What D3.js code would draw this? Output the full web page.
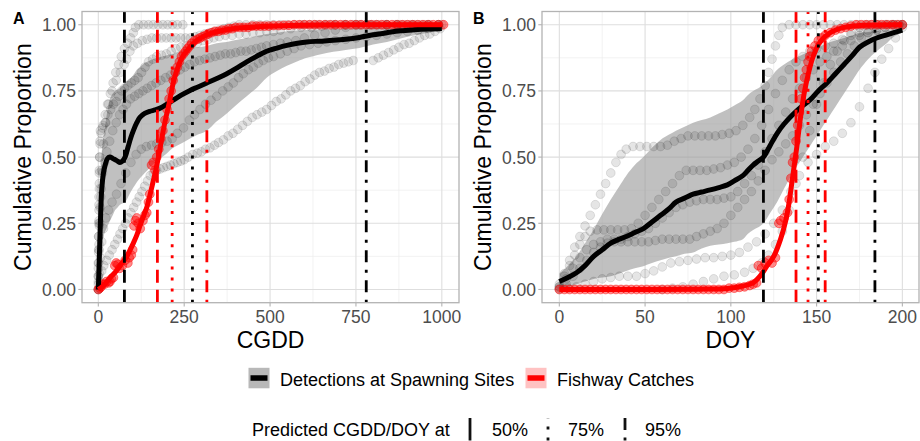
<!DOCTYPE html>
<html>
<head>
<meta charset="utf-8">
<script src="https://cdn.jsdelivr.net/npm/d3@7"></script>
<style>
  body { margin: 0; background: #fff; }
  svg text { font-family: "Liberation Sans", Arial, Helvetica, sans-serif; }
</style>
</head>
<body>
<svg id="chart" width="920" height="441"></svg>
<script>
// ---------- axis ticks ----------
const cgddTicks = [0, 250, 500, 750, 1000];
const doyTicks = [0, 50, 100, 150, 200];
const propTicks = [0, 0.25, 0.5, 0.75, 1];

// ---------- panel A: cumulative proportion vs CGDD ----------
// smoothed spawning-site curve: [CGDD, fit, lower, upper]
const cgddSiteFit = [
  [0,0.00,0.00,0.03],[3,0.12,0.05,0.22],[6,0.25,0.12,0.40],[10,0.38,0.17,0.52],[15,0.44,0.20,0.58],
  [20,0.47,0.22,0.62],[27,0.495,0.24,0.68],[34,0.50,0.26,0.72],[42,0.495,0.28,0.74],[49,0.49,0.30,0.75],
  [56,0.485,0.31,0.755],[63,0.48,0.32,0.76],[70,0.485,0.325,0.77],[78,0.50,0.33,0.78],[87,0.54,0.35,0.79],
  [95,0.575,0.37,0.80],[102,0.60,0.385,0.81],[112,0.63,0.405,0.83],[121,0.65,0.42,0.84],[135,0.665,0.44,0.855],
  [150,0.673,0.46,0.865],[165,0.678,0.48,0.872],[180,0.685,0.495,0.878],[200,0.70,0.515,0.885],[218,0.715,0.535,0.89],
  [240,0.733,0.55,0.90],[267,0.752,0.57,0.91],[290,0.765,0.585,0.915],[316,0.78,0.60,0.92],[345,0.797,0.635,0.93],
  [374,0.815,0.665,0.935],[400,0.834,0.695,0.942],[432,0.86,0.73,0.95],[460,0.88,0.76,0.957],[490,0.90,0.80,0.965],
  [520,0.912,0.825,0.97],[549,0.922,0.845,0.975],[580,0.93,0.862,0.978],[607,0.935,0.875,0.98],[645,0.938,0.888,0.982],
  [684,0.941,0.898,0.984],[720,0.945,0.905,0.985],[760,0.952,0.912,0.987],[800,0.962,0.925,0.989],[840,0.97,0.935,0.99],
  [880,0.977,0.948,0.991],[920,0.981,0.96,0.992],[960,0.984,0.97,0.993],[1000,0.986,0.978,0.994]
];
// smoothed fishway curve: [CGDD, fit]
const cgddFishFit = [
  [0,0],[15,0.015],[34,0.044],[50,0.066],[63,0.088],[75,0.11],[83,0.125],[92,0.148],[102,0.175],[112,0.205],
  [121,0.24],[131,0.275],[141,0.31],[150,0.355],[160,0.41],[168,0.455],[175,0.50],[182,0.55],[189,0.60],[196,0.645],
  [204,0.69],[211,0.735],[218,0.78],[228,0.825],[238,0.86],[248,0.885],[257,0.90],[270,0.92],[286,0.94],[305,0.955],
  [325,0.966],[360,0.978],[393,0.985],[440,0.99],[490,0.994],[560,0.997],[650,0.999],[800,1],[1000,1]
];
// observed cumulative detections at individual spawning sites
const cgddSite1 = [[0,0],[0,0.05],[0,0.1],[1,0.15],[1,0.2],[1,0.25],[2,0.3],[2,0.35],[3,0.4],[3,0.45],[4,0.5],[5,0.55],[8,0.59],[14,0.62],[20,0.66],[27,0.7],[35,0.74],[43,0.78],[51,0.82],[59,0.85],[67,0.88],[76,0.91],[85,0.93],[94,0.95],[102,0.97],[108,0.99],[118,1],[132,1],[146,1],[160,1],[174,1],[188,1],[202,1],[216,1],[230,1],[246,1],[600,1],[630,1],[660,1],[690,1],[720,1],[750,1],[780,1],[810,1],[840,1],[870,1],[900,1],[930,1],[960,1],[990,1]];
const cgddSite2 = [[0,0.02],[0,0.08],[1,0.14],[1,0.2],[2,0.26],[2,0.32],[3,0.38],[3,0.44],[4,0.5],[5,0.56],[6,0.6],[12,0.61],[20,0.63],[28,0.66],[36,0.68],[44,0.7],[52,0.71],[60,0.73],[68,0.75],[76,0.76],[86,0.77],[96,0.78],[106,0.79],[116,0.8],[126,0.82],[136,0.84],[146,0.86],[158,0.87],[170,0.88],[184,0.885],[198,0.89],[212,0.9],[226,0.91],[240,0.915],[256,0.92],[272,0.925],[288,0.93],[304,0.94],[320,0.945],[336,0.95],[352,0.955],[370,0.96],[390,0.96],[410,0.965],[430,0.965],[450,0.97],[470,0.97],[490,0.975],[510,0.975],[530,0.98],[560,0.985],[590,0.99],[620,0.99],[650,0.995],[680,1],[720,1],[760,1],[800,1],[840,1],[880,1],[920,1],[960,1],[1000,1]];
const cgddSite3 = [[0,0.05],[2,0.15],[4,0.25],[7,0.35],[10,0.45],[15,0.55],[22,0.63],[30,0.7],[40,0.75],[52,0.79],[64,0.82],[75,0.85],[83,0.87],[92,0.9],[102,0.92],[114,0.93],[128,0.94],[142,0.945],[156,0.95],[170,0.95],[184,0.95],[198,0.95],[212,0.95],[226,0.95],[240,0.95],[254,0.95],[268,0.95],[282,0.955],[296,0.96],[310,0.965],[324,0.97],[338,0.975],[352,0.98],[366,0.985],[380,0.99],[394,0.995],[410,1],[430,1],[450,1],[470,1],[490,1],[510,1],[530,1],[550,1],[570,1],[590,1],[615,1],[640,1],[665,1],[690,1],[715,1],[740,1],[765,1],[790,1],[815,1],[840,1],[865,1],[890,1],[915,1],[940,1],[965,1],[990,1]];
const cgddSite4 = [[0,0],[3,0.06],[6,0.12],[10,0.18],[15,0.23],[22,0.27],[30,0.3],[40,0.33],[53,0.36],[66,0.4],[80,0.44],[95,0.48],[110,0.51],[125,0.53],[140,0.54],[155,0.545],[170,0.55],[185,0.555],[200,0.56],[215,0.57],[230,0.59],[248,0.61],[265,0.64],[280,0.66],[296,0.68],[312,0.7],[328,0.715],[345,0.73],[362,0.75],[378,0.765],[393,0.78],[408,0.8],[422,0.815],[437,0.83],[451,0.84],[466,0.855],[480,0.865],[495,0.875],[510,0.88],[530,0.89],[550,0.9],[570,0.91],[590,0.92],[615,0.925],[640,0.93],[665,0.935],[690,0.94],[720,0.945],[750,0.95],[780,0.955],[810,0.96],[840,0.965],[870,0.97],[900,0.975],[930,0.98],[960,0.985],[990,0.99]];
const cgddSite5 = [[0,0],[5,0.03],[10,0.07],[16,0.09],[24,0.11],[32,0.13],[40,0.15],[48,0.17],[56,0.19],[63,0.21],[71,0.23],[79,0.25],[87,0.27],[95,0.29],[103,0.31],[111,0.33],[119,0.35],[127,0.37],[135,0.39],[143,0.41],[151,0.43],[160,0.44],[170,0.45],[180,0.455],[190,0.46],[200,0.465],[210,0.47],[220,0.475],[230,0.48],[240,0.485],[250,0.49],[262,0.5],[275,0.51],[288,0.515],[300,0.52],[312,0.53],[325,0.535],[338,0.545],[350,0.555],[364,0.565],[378,0.58],[392,0.59],[406,0.605],[420,0.62],[434,0.635],[448,0.65],[462,0.66],[476,0.67],[490,0.68],[504,0.695],[518,0.71],[532,0.72],[546,0.735],[560,0.75],[574,0.76],[588,0.77],[602,0.785],[616,0.795],[630,0.81],[644,0.82],[658,0.825],[672,0.835],[686,0.84],[700,0.85],[714,0.855],[728,0.86],[742,0.865],[800,0.865],[815,0.875],[830,0.885],[845,0.895],[860,0.905],[875,0.915],[890,0.925],[905,0.93],[920,0.94],[935,0.95],[950,0.96],[965,0.965],[980,0.975],[995,0.985]];
const cgddSite6 = [[0,0.03],[1,0.1],[2,0.17],[3,0.24],[5,0.31],[8,0.38],[12,0.44],[18,0.48],[25,0.52],[33,0.56],[42,0.6],[52,0.63],[62,0.66],[72,0.68],[82,0.7],[94,0.72],[106,0.73],[118,0.74],[130,0.75],[142,0.76],[155,0.77],[168,0.78],[182,0.79],[196,0.8],[210,0.81],[224,0.82],[238,0.83],[252,0.84],[266,0.85],[280,0.86],[295,0.865],[310,0.87],[325,0.875],[340,0.88],[355,0.885],[370,0.89],[385,0.89],[400,0.895],[415,0.9],[430,0.9],[445,0.905],[460,0.91],[475,0.915],[490,0.92],[510,0.925],[530,0.93],[550,0.935],[575,0.94],[600,0.95],[630,0.96],[660,0.97],[690,0.98],[720,0.99],[750,1],[790,1],[830,1],[870,1],[910,1],[950,1],[990,1]];
// observed cumulative fishway catches
const cgddFishPts = [[0,0],[4,0.005],[8,0.01],[12,0.02],[18,0.02],[24,0.03],[30,0.025],[34,0.03],[38,0.04],[44,0.045],[48,0.09],[52,0.1],[57,0.095],[62,0.08],[70,0.09],[78,0.11],[86,0.1],[90,0.12],[96,0.13],[100,0.15],[104,0.24],[108,0.26],[112,0.27],[116,0.25],[122,0.23],[130,0.26],[136,0.28],[141,0.29],[146,0.33],[150,0.36],[155,0.47],[160,0.48],[165,0.45],[170,0.5],[176,0.53],[182,0.57],[188,0.6],[194,0.64],[200,0.68],[206,0.72],[212,0.75],[218,0.79],[224,0.82],[230,0.84],[236,0.86],[242,0.88],[248,0.89],[254,0.9],[260,0.91],[266,0.92],[272,0.93],[280,0.94],[288,0.945],[296,0.95],[304,0.955],[312,0.96],[320,0.965],[330,0.97],[340,0.975],[350,0.975],[360,0.98],[370,0.98],[380,0.985],[390,0.985],[400,0.99],[412,0.99],[424,0.99],[436,0.99],[448,0.995],[460,0.995],[472,0.995],[484,0.995],[496,0.995],[510,0.997],[525,0.997],[540,0.998],[555,0.998],[570,1],[585,1],[600,1],[615,1],[630,1],[645,1],[660,1],[675,1],[690,1],[705,1],[720,1],[735,1],[750,1],[765,1],[780,1],[795,1],[810,1],[825,1],[840,1],[855,1],[870,1],[885,1],[900,1],[915,1],[930,1],[945,1],[960,1],[975,1],[990,1],[1005,1]];
// predicted CGDD at 50%, 75%, 95%
const cgddSiteMarks = [76, 274, 780];
const cgddFishMarks = [172, 215, 316];

// ---------- panel B: cumulative proportion vs DOY ----------
const doySiteFit = [
  [0,0.03,0.005,0.06],[5,0.045,0.01,0.09],[10,0.063,0.02,0.125],[15,0.09,0.03,0.175],[20,0.125,0.04,0.226],
  [25,0.15,0.045,0.285],[30,0.175,0.05,0.34],[35,0.19,0.06,0.39],[39,0.20,0.07,0.43],[44,0.215,0.08,0.47],
  [49,0.23,0.088,0.50],[54,0.255,0.10,0.535],[59,0.28,0.11,0.565],[64,0.305,0.12,0.585],[68,0.33,0.125,0.60],
  [73,0.345,0.135,0.615],[78,0.36,0.14,0.63],[83,0.368,0.155,0.64],[88,0.376,0.165,0.65],[93,0.385,0.17,0.665],
  [98,0.395,0.175,0.68],[102,0.41,0.18,0.695],[107,0.43,0.19,0.715],[110,0.45,0.21,0.735],[113,0.47,0.225,0.75],
  [116,0.485,0.235,0.76],[119,0.50,0.25,0.775],[123,0.545,0.29,0.80],[127,0.59,0.33,0.83],[131,0.625,0.38,0.85],
  [136,0.66,0.44,0.87],[141,0.69,0.49,0.885],[146,0.715,0.54,0.90],[151,0.75,0.59,0.915],[156,0.78,0.64,0.93],
  [161,0.815,0.69,0.94],[166,0.85,0.74,0.95],[171,0.885,0.79,0.96],[175,0.915,0.83,0.97],[180,0.935,0.87,0.973],
  [185,0.95,0.90,0.976],[190,0.96,0.925,0.98],[195,0.97,0.955,0.982],[200,0.98,0.97,0.985]
];
const doyFishFit = [
  [0,0],[40,0],[80,0.001],[98,0.004],[107,0.013],[113,0.025],[117,0.05],[121,0.088],[125,0.125],[129,0.19],
  [132,0.26],[134,0.33],[135.5,0.4],[137,0.47],[138.5,0.54],[140,0.62],[141.5,0.69],[143,0.75],[145,0.81],[148,0.88],
  [152,0.935],[158,0.97],[166,0.99],[175,0.997],[200,1]
];
const doySite1 = [[0,0.01],[3,0.06],[6,0.11],[9,0.16],[12,0.2],[15,0.24],[18,0.28],[21,0.32],[24,0.36],[27,0.4],[30,0.44],[33,0.48],[36,0.51],[39,0.53],[43,0.54],[47,0.54],[51,0.54],[55,0.54],[59,0.54],[63,0.545],[67,0.56],[71,0.57],[75,0.58],[79,0.58],[83,0.58],[87,0.58],[91,0.58],[95,0.585],[99,0.59],[103,0.6],[107,0.62],[111,0.65],[114,0.68],[117,0.72],[120,0.77],[122,0.82],[124,0.87],[126,0.92],[128,0.96],[130,0.99],[134,1],[138,1],[142,1],[146,1],[150,1],[154,1],[158,1],[162,1],[166,1],[170,1],[174,1],[178,1],[182,1],[186,1],[190,1],[194,1],[198,1]];
const doySite2 = [[0,0.02],[3,0.05],[6,0.09],[9,0.13],[12,0.17],[15,0.2],[18,0.22],[22,0.225],[26,0.225],[30,0.225],[34,0.225],[38,0.225],[42,0.23],[46,0.25],[50,0.28],[54,0.31],[58,0.34],[62,0.37],[66,0.4],[70,0.43],[74,0.45],[78,0.45],[82,0.45],[86,0.45],[90,0.455],[94,0.46],[98,0.47],[102,0.48],[106,0.5],[110,0.53],[114,0.57],[118,0.62],[122,0.68],[126,0.74],[130,0.79],[134,0.83],[138,0.86],[142,0.88],[146,0.9],[150,0.91],[155,0.92],[160,0.93],[165,0.945],[170,0.96],[175,0.97],[180,0.98],[185,0.99],[190,1],[195,1],[200,1]];
const doySite3 = [[0,0.01],[4,0.04],[8,0.08],[12,0.12],[16,0.15],[20,0.17],[24,0.18],[28,0.19],[32,0.19],[36,0.19],[40,0.2],[44,0.21],[48,0.22],[52,0.23],[56,0.25],[60,0.27],[64,0.29],[68,0.31],[72,0.32],[76,0.33],[80,0.335],[84,0.34],[88,0.34],[92,0.34],[96,0.345],[100,0.35],[104,0.37],[108,0.4],[112,0.43],[116,0.47],[120,0.52],[124,0.57],[128,0.62],[132,0.67],[136,0.72],[140,0.76],[144,0.8],[148,0.83],[152,0.86],[156,0.88],[160,0.9],[165,0.92],[170,0.94],[175,0.96],[180,0.97],[185,0.98],[190,0.99],[195,1],[200,1]];
const doySite4 = [[0,0.005],[4,0.02],[8,0.05],[12,0.08],[16,0.11],[20,0.14],[24,0.16],[28,0.175],[32,0.18],[36,0.18],[40,0.18],[44,0.18],[48,0.18],[52,0.18],[56,0.185],[60,0.19],[64,0.19],[68,0.19],[72,0.19],[76,0.19],[80,0.2],[84,0.21],[88,0.22],[92,0.23],[96,0.25],[100,0.28],[104,0.31],[108,0.34],[112,0.37],[116,0.41],[120,0.45],[124,0.49],[128,0.52],[132,0.55],[136,0.58],[140,0.62],[144,0.66],[148,0.7],[152,0.74],[156,0.78],[160,0.82],[164,0.86],[168,0.89],[172,0.92],[176,0.95],[180,0.97],[185,0.98],[190,0.99],[195,1],[200,1]];
const doySite5 = [[0,0],[5,0.005],[10,0.01],[15,0.02],[20,0.03],[25,0.04],[30,0.045],[35,0.05],[40,0.05],[45,0.05],[50,0.06],[55,0.07],[60,0.085],[65,0.1],[70,0.105],[75,0.11],[80,0.115],[85,0.12],[90,0.12],[95,0.125],[100,0.13],[105,0.14],[110,0.16],[115,0.18],[120,0.21],[125,0.25],[130,0.3],[135,0.37],[140,0.43],[145,0.48],[150,0.51],[155,0.54],[160,0.56],[165,0.59],[170,0.63],[175,0.69],[180,0.76],[184,0.82],[188,0.87],[192,0.91],[196,0.95],[200,0.99]];
const doySite6 = [[60,0],[66,0.005],[72,0.01],[78,0.02],[84,0.03],[90,0.04],[96,0.05],[102,0.055],[108,0.065],[113,0.08],[118,0.1],[122,0.13],[126,0.17],[130,0.22],[134,0.3],[138,0.4],[142,0.5],[146,0.6],[150,0.7],[154,0.78],[158,0.85],[162,0.9],[166,0.94],[170,0.97],[175,0.99],[180,1],[186,1],[192,1],[198,1]];
const doyFishPts = [[0,0],[3,0],[6,0],[9,0],[12,0],[15,0],[18,0],[21,0],[24,0],[27,0],[30,0],[33,0],[36,0],[39,0],[42,0],[45,0],[48,0],[51,0],[54,0],[57,0],[60,0],[63,0],[66,0],[69,0],[72,0],[75,0],[78,0],[81,0],[84,0],[87,0],[90,0],[93,0],[96,0],[99,0.005],[102,0.005],[105,0.008],[108,0.01],[111,0.015],[113,0.02],[115,0.025],[116,0.09],[118,0.08],[120,0.1],[122,0.11],[124,0.1],[126,0.12],[128,0.25],[129,0.26],[131,0.27],[133,0.29],[134,0.34],[135,0.42],[136,0.48],[137,0.5],[138,0.56],[139,0.62],[140,0.67],[141,0.72],[142,0.76],[143,0.8],[144,0.83],[145,0.86],[146,0.88],[147,0.9],[149,0.92],[151,0.94],[153,0.95],[155,0.96],[158,0.97],[161,0.98],[164,0.985],[167,0.99],[170,0.995],[173,1],[176,1],[179,1],[182,1],[185,1],[188,1],[191,1],[194,1],[197,1],[200,1]];
const doySiteMarks = [119, 151, 184];
const doyFishMarks = [138, 145, 155];

// ---------- legend text ----------
const seriesNames = ["Detections at Spawning Sites", "Fishway Catches"];
const markLabels = ["50%", "75%", "95%"];
const markTitle = "Predicted CGDD/DOY at";

// ---------- styling ----------
const siteColor = "#000000", fishColor = "#ff0000";
const markDash = ["13,7", "3,8.1", "3,7.5,12,7.5"];
const panelTop = 11.5, panelBottom = 302.7;

const svg = d3.select("#chart");
const yScale = d3.scaleLinear().domain([-0.05, 1.05]).range([panelBottom, panelTop]);
const minorOf = t => d3.pairs(t).map(([a, b]) => (a + b) / 2);

function drawPanel(p, idx) {
  const x = d3.scaleLinear().domain(p.xDomain).range([p.left, p.right]);
  const g = svg.append("g");
  const clipId = "clip" + idx;
  g.append("clipPath").attr("id", clipId).append("rect")
    .attr("x", p.left).attr("y", panelTop).attr("width", p.right - p.left).attr("height", panelBottom - panelTop);

  // grid
  const grid = g.append("g");
  minorOf(p.xTicks).forEach(v => grid.append("line").attr("x1", x(v)).attr("x2", x(v)).attr("y1", panelTop).attr("y2", panelBottom)
    .attr("stroke", "#ececec").attr("stroke-width", 0.7));
  minorOf(propTicks).forEach(v => grid.append("line").attr("x1", p.left).attr("x2", p.right).attr("y1", yScale(v)).attr("y2", yScale(v))
    .attr("stroke", "#ececec").attr("stroke-width", 0.7));
  p.xTicks.forEach(v => grid.append("line").attr("x1", x(v)).attr("x2", x(v)).attr("y1", panelTop).attr("y2", panelBottom)
    .attr("stroke", "#dedede").attr("stroke-width", 1.1));
  propTicks.forEach(v => grid.append("line").attr("x1", p.left).attr("x2", p.right).attr("y1", yScale(v)).attr("y2", yScale(v))
    .attr("stroke", "#dedede").attr("stroke-width", 1.1));

  const plot = g.append("g").attr("clip-path", `url(#${clipId})`);
  const curve = d3.curveCatmullRom.alpha(0.5);

  // confidence ribbon of site curve
  plot.append("path").datum(p.siteFit)
    .attr("d", d3.area().x(d => x(d[0])).y0(d => yScale(d[2])).y1(d => yScale(d[3])).curve(curve))
    .attr("fill", "#999999").attr("fill-opacity", 0.62);

  // site observations
  p.sites.forEach(s => {
    plot.append("g").selectAll("circle").data(s).join("circle")
      .attr("cx", d => x(d[0])).attr("cy", d => yScale(d[1])).attr("r", 4.4)
      .attr("fill", siteColor).attr("fill-opacity", 0.1)
      .attr("stroke", siteColor).attr("stroke-opacity", 0.1).attr("stroke-width", 1);
  });
  // fishway observations
  plot.append("g").selectAll("circle").data(p.fishPts).join("circle")
    .attr("cx", d => x(d[0])).attr("cy", d => yScale(d[1])).attr("r", 4.4)
    .attr("fill", fishColor).attr("fill-opacity", 0.45)
    .attr("stroke", fishColor).attr("stroke-opacity", 0.45).attr("stroke-width", 1);

  // fitted curves
  plot.append("path").datum(p.siteFit)
    .attr("d", d3.line().x(d => x(d[0])).y(d => yScale(d[1])).curve(curve))
    .attr("fill", "none").attr("stroke", siteColor).attr("stroke-width", 5).attr("stroke-linejoin", "round");
  plot.append("path").datum(p.fishFit)
    .attr("d", d3.line().x(d => x(d[0])).y(d => yScale(d[1])).curve(curve))
    .attr("fill", "none").attr("stroke", fishColor).attr("stroke-width", 5).attr("stroke-linejoin", "round");

  // predicted 50/75/95% lines, drawn bottom to top
  const vline = (v, i, color) => plot.append("path")
    .attr("d", `M${x(v)},${panelBottom}V${panelTop}`)
    .attr("stroke", color).attr("stroke-width", 2.8).attr("stroke-dasharray", markDash[i]).attr("fill", "none");
  p.siteMarks.forEach((v, i) => vline(v, i, siteColor));
  p.fishMarks.forEach((v, i) => vline(v, i, fishColor));

  // border
  g.append("rect").attr("x", p.left).attr("y", panelTop).attr("width", p.right - p.left).attr("height", panelBottom - panelTop)
    .attr("fill", "none").attr("stroke", "#b3b3b3").attr("stroke-width", 1.3);

  // ticks and labels
  p.xTicks.forEach(v => {
    g.append("line").attr("x1", x(v)).attr("x2", x(v)).attr("y1", panelBottom).attr("y2", panelBottom + 3.7)
      .attr("stroke", "#b3b3b3").attr("stroke-width", 1.1);
    g.append("text").attr("x", x(v)).attr("y", 323).attr("text-anchor", "middle")
      .attr("font-size", 17.5).attr("fill", "#4d4d4d").text(d3.format("d")(v));
  });
  propTicks.forEach(v => {
    g.append("line").attr("x1", p.left - 3.7).attr("x2", p.left).attr("y1", yScale(v)).attr("y2", yScale(v))
      .attr("stroke", "#b3b3b3").attr("stroke-width", 1.1);
    g.append("text").attr("x", p.left - 6).attr("y", yScale(v) + 6.5).attr("text-anchor", "end")
      .attr("font-size", 17.5).attr("fill", "#4d4d4d").text(d3.format(".2f")(v));
  });
  g.append("text").attr("x", (p.left + p.right) / 2).attr("y", 347.7).attr("text-anchor", "middle")
    .attr("font-size", 23).attr("fill", "#000").text(p.xTitle);
  g.append("text").attr("transform", `translate(${p.left - 51.5},${(panelTop + panelBottom) / 2}) rotate(-90)`)
    .attr("text-anchor", "middle").attr("font-size", 23).attr("fill", "#000").text("Cumulative Proportion");
  g.append("text").attr("x", p.left - 69).attr("y", 24).attr("font-size", 16).attr("font-weight", "bold")
    .attr("fill", "#000").text(p.tag);
}

const panels = [
  { tag: "A", left: 82, right: 459, xDomain: [-47.5, 1050], xTicks: cgddTicks, xTitle: "CGDD",
    siteFit: cgddSiteFit, fishFit: cgddFishFit,
    sites: [cgddSite1, cgddSite2, cgddSite3, cgddSite4, cgddSite5, cgddSite6],
    fishPts: cgddFishPts, siteMarks: cgddSiteMarks, fishMarks: cgddFishMarks },
  { tag: "B", left: 542, right: 919, xDomain: [-10.1, 209.7], xTicks: doyTicks, xTitle: "DOY",
    siteFit: doySiteFit, fishFit: doyFishFit,
    sites: [doySite1, doySite2, doySite3, doySite4, doySite5, doySite6],
    fishPts: doyFishPts, siteMarks: doySiteMarks, fishMarks: doyFishMarks }
];
panels.forEach(drawPanel);

// ---------- legends ----------
const leg = svg.append("g");
const keyFills = ["#b8b8b8", "#ffc2c2"];
const keyLines = [siteColor, fishColor];
const keyX = [248.5, 525.5], textX = [280, 557];
seriesNames.forEach((name, i) => {
  leg.append("rect").attr("x", keyX[i]).attr("y", 367.8).attr("width", 21).attr("height", 20.5).attr("fill", keyFills[i]);
  leg.append("line").attr("x1", keyX[i] + 2).attr("x2", keyX[i] + 19).attr("y1", 378).attr("y2", 378)
    .attr("stroke", keyLines[i]).attr("stroke-width", 5.5);
  leg.append("text").attr("x", textX[i]).attr("y", 385.7).attr("font-size", 18).attr("fill", "#000").text(name);
});
leg.append("text").attr("x", 252).attr("y", 435.7).attr("font-size", 18).attr("fill", "#000").text(markTitle);
const markKeyX = [470, 548, 625], markTextX = [492, 568, 645];
markLabels.forEach((lab, i) => {
  leg.append("path").attr("d", `M${markKeyX[i]},440.5V418`)
    .attr("stroke", "#111").attr("stroke-width", 2.8)
    .attr("stroke-dasharray", i === 0 ? null : markDash[i]).attr("fill", "none");
  leg.append("text").attr("x", markTextX[i]).attr("y", 435.7).attr("font-size", 18).attr("fill", "#000").text(lab);
});
</script>
</body>
</html>
